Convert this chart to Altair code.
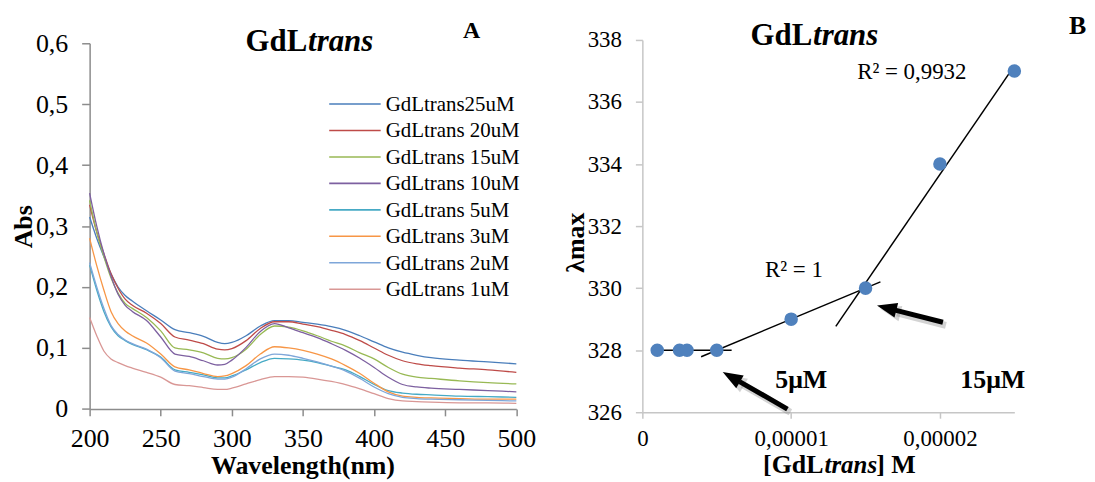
import altair as alt
import numpy as np
import pandas as pd

FONT = "Liberation Serif, Times New Roman, Tinos, Nimbus Roman, Noto Serif, DejaVu Serif, serif"

# ---------------- Panel A data: UV-Vis spectra ----------------
wavelength_nm = [200, 205, 210, 215, 220, 225, 230, 240, 250, 260, 270, 280, 290, 295, 300,
                 310, 320, 330, 340, 350, 360, 370, 380, 390, 400, 410, 420, 430, 440, 460, 480, 500]
abs_25uM = [0.315, 0.280, 0.250, 0.222, 0.200, 0.186, 0.177, 0.161, 0.146, 0.130, 0.125, 0.119, 0.109, 0.107, 0.109,
            0.120, 0.136, 0.145, 0.145, 0.142, 0.139, 0.135, 0.129, 0.120, 0.110, 0.100, 0.093, 0.088, 0.084, 0.080, 0.077, 0.074]
abs_20uM = [0.335, 0.290, 0.255, 0.222, 0.198, 0.180, 0.170, 0.157, 0.140, 0.118, 0.113, 0.107, 0.098, 0.097, 0.099,
            0.112, 0.132, 0.143, 0.143, 0.139, 0.135, 0.129, 0.122, 0.112, 0.100, 0.088, 0.079, 0.074, 0.071, 0.067, 0.064, 0.060]
abs_15uM = [0.342, 0.290, 0.250, 0.215, 0.190, 0.173, 0.165, 0.150, 0.128, 0.100, 0.097, 0.092, 0.083, 0.082, 0.084,
            0.098, 0.122, 0.136, 0.134, 0.128, 0.120, 0.111, 0.103, 0.092, 0.082, 0.068, 0.057, 0.052, 0.050, 0.046, 0.043, 0.041]
abs_10uM = [0.354, 0.300, 0.255, 0.218, 0.188, 0.170, 0.160, 0.145, 0.118, 0.090, 0.086, 0.079, 0.072, 0.073, 0.080,
            0.101, 0.127, 0.140, 0.133, 0.125, 0.117, 0.107, 0.096, 0.083, 0.068, 0.052, 0.040, 0.036, 0.034, 0.032, 0.030, 0.028]
abs_5uM = [0.236, 0.195, 0.160, 0.135, 0.120, 0.112, 0.106, 0.097, 0.085, 0.064, 0.060, 0.056, 0.051, 0.051, 0.054,
           0.064, 0.076, 0.083, 0.082, 0.080, 0.076, 0.070, 0.064, 0.053, 0.040, 0.030, 0.026, 0.024, 0.023, 0.021, 0.020, 0.019]
abs_3uM = [0.280, 0.235, 0.195, 0.160, 0.140, 0.128, 0.120, 0.108, 0.090, 0.069, 0.064, 0.058, 0.053, 0.054, 0.058,
           0.071, 0.090, 0.102, 0.100, 0.096, 0.090, 0.082, 0.071, 0.058, 0.042, 0.028, 0.021, 0.019, 0.018, 0.017, 0.016, 0.016]
abs_2uM = [0.240, 0.200, 0.165, 0.137, 0.122, 0.113, 0.107, 0.098, 0.084, 0.062, 0.058, 0.053, 0.049, 0.049, 0.052,
           0.066, 0.082, 0.090, 0.088, 0.083, 0.077, 0.070, 0.062, 0.050, 0.036, 0.025, 0.019, 0.017, 0.016, 0.015, 0.014, 0.013]
abs_1uM = [0.150, 0.120, 0.095, 0.082, 0.076, 0.071, 0.067, 0.060, 0.052, 0.040, 0.038, 0.035, 0.032, 0.032, 0.034,
           0.041, 0.048, 0.053, 0.053, 0.052, 0.049, 0.045, 0.040, 0.033, 0.025, 0.017, 0.013, 0.012, 0.011, 0.010, 0.010, 0.009]

series_names = ["GdLtrans25uM", "GdLtrans 20uM", "GdLtrans 15uM", "GdLtrans 10uM",
                "GdLtrans 5uM", "GdLtrans 3uM", "GdLtrans 2uM", "GdLtrans 1uM"]
series_values = [abs_25uM, abs_20uM, abs_15uM, abs_10uM, abs_5uM, abs_3uM, abs_2uM, abs_1uM]
series_colors = ["#4A7EBB", "#BE4B48", "#98B954", "#7D60A0", "#46AAC5", "#F79646", "#7EA6D9", "#D99795"]

x_ticks_A = [200, 250, 300, 350, 400, 450, 500]
y_ticks_A = [0, 0.1, 0.2, 0.3, 0.4, 0.5, 0.6]

# ---------------- Panel B data: lambda max vs concentration ----------------
conc_M = [1e-6, 2.5e-6, 3e-6, 5e-6, 1e-5, 1.5e-5, 2e-5, 2.5e-5]
lambda_max_nm = [328, 328, 328, 328, 329, 330, 334, 337]
fit_groups = [[0, 1, 2, 3], [3, 4, 5], [5, 6, 7]]
fit_extent_M = [[1e-6, 6e-6], [3.95e-6, 16e-6], [13e-6, 25e-6]]

x_ticks_B = [0, 1e-5, 2e-5]
y_ticks_B = [326, 328, 330, 332, 334, 336, 338]

r2_labels = ["R² = 0,9932", "R² = 1"]
r2_x = [18.11e-6, 10.19e-6]
r2_y = [336.73, 330.37]

conc_labels = ["5μM", "15μM"]
conc_label_x = [10.68e-6, 23.55e-6]
conc_label_y = [326.79, 326.79]

arrow_tail_x = [9.75e-6, 20.2e-6]
arrow_tail_y = [326.1, 328.9]
arrow_tip_x = [5.4e-6, 15.77e-6]
arrow_tip_y = [327.3, 329.44]
arrow_angle = [300, 284]

# ---------------- build tables ----------------
spec_rows = []
for name, vals in zip(series_names, series_values):
    for w, a in zip(wavelength_nm, vals):
        spec_rows.append({"series": name, "wl": w, "abs": a})
spec_df = pd.DataFrame(spec_rows)

legend_df = pd.DataFrame({"series": series_names, "row": list(range(len(series_names)))})

pts_df = pd.DataFrame({"c": conc_M, "lm": lambda_max_nm})

trend_rows = []
for gi, (idx, ext) in enumerate(zip(fit_groups, fit_extent_M)):
    xs = np.array([conc_M[i] for i in idx])
    ys = np.array([lambda_max_nm[i] for i in idx])
    k, b = np.polyfit(xs * 1e6, ys, 1)
    for e in ext:
        trend_rows.append({"g": gi, "c": e, "lm": k * e * 1e6 + b})
trend_df = pd.DataFrame(trend_rows)

arr = pd.DataFrame({"tx": arrow_tail_x, "ty": arrow_tail_y, "hx": arrow_tip_x, "hy": arrow_tip_y, "ang": arrow_angle})
arr["sx"] = arr["tx"] + 0.74 * (arr["hx"] - arr["tx"])
arr["sy"] = arr["ty"] + 0.74 * (arr["hy"] - arr["ty"])
shadow = arr.copy()
for cx in ["tx", "hx", "sx"]:
    shadow[cx] = shadow[cx] + 0.2e-6
for cy in ["ty", "hy", "sy"]:
    shadow[cy] = shadow[cy] - 0.1

r2_df = pd.DataFrame({"t": r2_labels, "c": r2_x, "lm": r2_y})
cl_df = pd.DataFrame({"t": conc_labels, "c": conc_label_x, "lm": conc_label_y})

one = pd.DataFrame({"k": [0]})


def label(s, x, y, size, bold=True, italic=False, align="center", baseline="alphabetic", angle=None):
    kw = dict(text=s, font=FONT, fontSize=size, fontWeight="bold" if bold else "normal",
              align=align, baseline=baseline, color="black")
    if italic:
        kw["fontStyle"] = "italic"
    if angle is not None:
        kw["angle"] = angle
    return alt.Chart(one).mark_text(**kw).encode(x=alt.value(x), y=alt.value(y))


# ---------------- Panel A ----------------
W1, H1 = 428.7, 367.3
color_scale = alt.Scale(domain=series_names, range=series_colors)
axis_gray = "#8C8C8C"

xA = alt.X("wl:Q", scale=alt.Scale(domain=[200, 500], nice=False, zero=False),
           axis=alt.Axis(values=x_ticks_A, title=None, grid=False, format="d",
                         labelFont=FONT, labelFontSize=26, labelColor="black",
                         labelPadding=10, tickSize=7, tickColor=axis_gray, tickWidth=1.5,
                         domainColor=axis_gray, domainWidth=1.5, labelFlush=False, labelOverlap=False))
yA = alt.Y("abs:Q", scale=alt.Scale(domain=[0, 0.6], nice=False),
           axis=alt.Axis(values=y_ticks_A, title=None, grid=False,
                         labelExpr="datum.value == 0 ? '0' : replace(format(datum.value, '.1f'), '.', ',')",
                         labelFont=FONT, labelFontSize=26, labelColor="black",
                         labelPadding=14, tickSize=8, tickColor=axis_gray, tickWidth=1.5,
                         domainColor=axis_gray, domainWidth=1.5, labelOverlap=False))

spectra = alt.Chart(spec_df).mark_line(strokeWidth=1.3, interpolate="monotone").encode(
    x=xA, y=yA,
    color=alt.Color("series:N", scale=color_scale, legend=None),
    order="wl:Q",
)

row_scale = alt.Scale(domain=[0, 7], range=[61.05, 247.05])
leg_rules = alt.Chart(legend_df).mark_rule(strokeWidth=1.6).encode(
    x=alt.value(240.7), x2=alt.value(292.4),
    y=alt.Y("row:Q", scale=row_scale, axis=None),
    color=alt.Color("series:N", scale=color_scale, legend=None),
)
leg_text = alt.Chart(legend_df).mark_text(font=FONT, fontSize=21, fontWeight="normal", align="left",
                                          baseline="middle", color="black", dy=1).encode(
    x=alt.value(297.4),
    y=alt.Y("row:Q", scale=row_scale, axis=None),
    text="series:N",
)

anchor = alt.Chart(one).mark_rule(strokeOpacity=0, strokeWidth=0.1).encode(
    x=alt.value(-81.3), x2=alt.value(-81.0), y=alt.value(-33.65))

left = alt.layer(
    spectra, leg_rules, leg_text,
    label("GdL", 218.7, 7.65, 31, align="right"),
    label("trans", 219.5, 7.65, 31, italic=True, align="left"),
    label("A", 383.7, -5.65, 24),
    label("Abs", -66.3, 184.35, 26, baseline="middle", angle=270),
    label("Wavelength(nm)", W1 / 2, 432.6, 26),
    anchor,
).resolve_scale(y="independent").properties(width=W1, height=H1)

# ---------------- Panel B ----------------
W2, H2 = 373.7, 374.0
light_gray = "#C6C6C6"
xB_scale = alt.Scale(domain=[0, 2.5e-5], nice=False, zero=False)
yB_scale = alt.Scale(domain=[326, 338], nice=False, zero=False)
xB_axis = alt.Axis(values=x_ticks_B, title=None, grid=False,
                   labelExpr="datum.value == 0 ? '0' : replace(format(datum.value, '.5f'), '.', ',')",
                   labelFont=FONT, labelFontSize=23, labelColor="black",
                   labelPadding=9, tickSize=6, tickColor=light_gray, tickWidth=1.5,
                   domainColor=light_gray, domainWidth=1.5, labelFlush=False, labelOverlap=False)
yB_axis = alt.Axis(values=y_ticks_B, title=None, grid=False, format="d",
                   labelFont=FONT, labelFontSize=23, labelColor="black",
                   labelPadding=14, tickSize=7, tickColor=light_gray, tickWidth=1.5,
                   domainColor=light_gray, domainWidth=1.5, labelOverlap=False)


def XB(f):
    return alt.X(f, scale=xB_scale, axis=xB_axis)


def YB(f):
    return alt.Y(f, scale=yB_scale, axis=yB_axis)


points = alt.Chart(pts_df).mark_circle(size=185, color="#4F81BD", opacity=1).encode(
    x=XB("c:Q"), y=YB("lm:Q"))

trends = alt.Chart(trend_df).mark_line(color="black", strokeWidth=1.5).encode(
    x=XB("c:Q"), y=YB("lm:Q"), detail="g:N")

head_path = "M0,0L-0.6,1.6L0.6,1.6Z"

shadow_shaft = alt.Chart(shadow).mark_rule(color="#808080", opacity=0.35, strokeWidth=7).encode(
    x=XB("tx:Q"), y=YB("ty:Q"), x2="sx:Q", y2="sy:Q")
shadow_head = alt.Chart(shadow).mark_point(shape=head_path, size=700, filled=True, color="#808080",
                                           opacity=0.35, strokeWidth=0).encode(
    x=XB("hx:Q"), y=YB("hy:Q"), angle=alt.Angle("ang:Q", scale=None))
shaft = alt.Chart(arr).mark_rule(color="black", strokeWidth=5).encode(
    x=XB("tx:Q"), y=YB("ty:Q"), x2="sx:Q", y2="sy:Q")
head = alt.Chart(arr).mark_point(shape=head_path, size=625, filled=True, color="black",
                                 opacity=1, strokeWidth=0).encode(
    x=XB("hx:Q"), y=YB("hy:Q"), angle=alt.Angle("ang:Q", scale=None))

r2_text = alt.Chart(r2_df).mark_text(font=FONT, fontSize=23, fontWeight="normal", align="center",
                                     baseline="alphabetic", color="black").encode(
    x=XB("c:Q"), y=YB("lm:Q"), text="t:N")
cl_text = alt.Chart(cl_df).mark_text(font=FONT, fontSize=26, fontWeight="bold", align="center",
                                     baseline="alphabetic", color="black").encode(
    x=XB("c:Q"), y=YB("lm:Q"), text="t:N")

right = alt.layer(
    shadow_shaft, shadow_head, trends, points, shaft, head, r2_text, cl_text,
    label("GdL", 170.7, 5, 31, align="right"),
    label("trans", 171.5, 5, 31, italic=True, align="left"),
    label("B", 428.7, -6.3, 26, align="left"),
    label("λmax", -67.1, 203.7, 26, baseline="middle", angle=270),
    label("[GdL", 182.0, 435.0, 26, align="right"),
    label("trans", 183.0, 435.0, 25, italic=True, align="left"),
    label("] M", 235.0, 435.0, 26, align="left"),
).properties(width=W2, height=H2)

chart = alt.hconcat(left, right, spacing=126.3, bounds="flush", center=True).properties(
    padding=0, background="white"
).configure_view(stroke=None)

chart.save("out.html", embed_options={"renderer": "svg", "actions": False})
